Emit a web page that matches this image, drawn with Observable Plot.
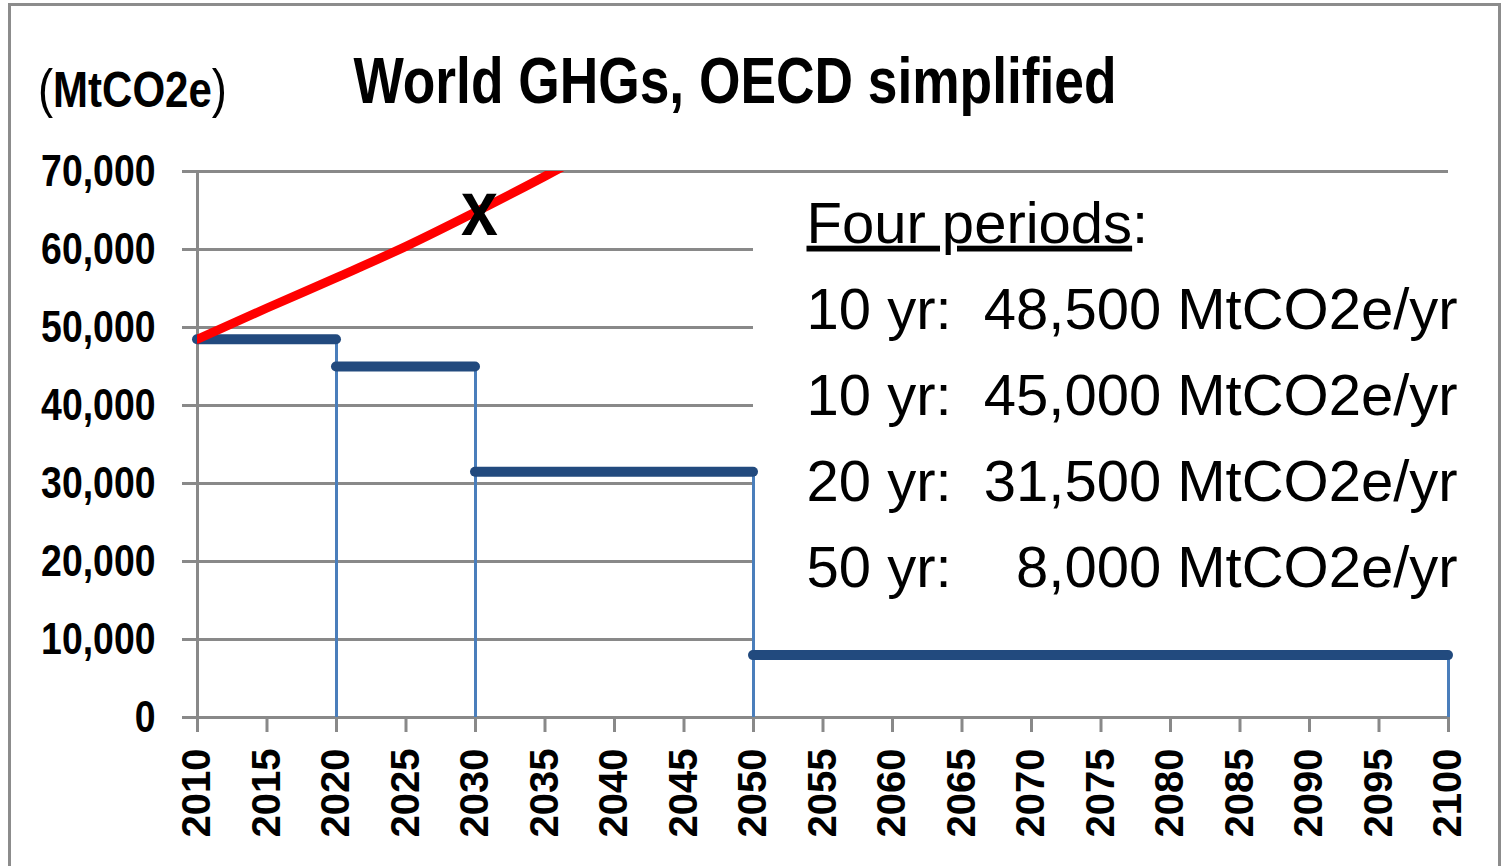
<!DOCTYPE html>
<html>
<head>
<meta charset="utf-8">
<script src="https://cdn.jsdelivr.net/npm/d3@7"></script>
<script src="https://cdn.jsdelivr.net/npm/@observablehq/plot@0.6"></script>
<style>
  html, body { margin: 0; padding: 0; background: #fff; overflow: hidden; }
  #wrap { position: relative; width: 1502px; height: 866px; overflow: hidden; background: #fff; }
  #header { position: relative; height: 130px; }
  #title { position: absolute; left: 0; width: 1470px; top: 48px; text-align: center;
           font: bold 65px/1 'Liberation Sans', Arial, sans-serif; white-space: nowrap; color: #000;
           transform: scaleX(0.82); transform-origin: 50% 50%; }
  #unit { position: absolute; left: 38px; top: 61px; white-space: nowrap; color: #000;
          font: normal 54px/1 'Liberation Sans', Arial, sans-serif;
          transform: scaleX(0.84); transform-origin: 0 50%; }
  #unit b { font-size: 50px; font-weight: bold; }
  #frame { position: absolute; left: 8px; top: 3px; width: 1487px; height: 900px;
           border: 3px solid #8c8c8c; pointer-events: none; }
  #chart svg { display: block; }
</style>
</head>
<body>
<div id="wrap">
  <div id="header">
    <div id="title"></div>
    <div id="unit"></div>
  </div>
  <div id="chart"></div>
  <div id="frame"></div>
</div>
<script>
// ---- data ----
const titleText = "World GHGs, OECD simplified";
const unitText = "MtCO2e";

// red "business as usual" curve
const redYears  = [2010, 2015, 2020, 2025, 2030, 2035, 2040];
const redValues = [48500, 52500, 56400, 60400, 64800, 69400, 74200];

// four simplified periods
const periodStart = [2010, 2020, 2030, 2050];
const periodEnd   = [2020, 2030, 2050, 2100];
const periodValue = [48500, 45000, 31500, 8000];

// marker on the red curve
const markerYear = 2030;
const markerLabel = "x";

// axis ticks
const xTickValues = [2010, 2015, 2020, 2025, 2030, 2035, 2040, 2045, 2050, 2055,
                     2060, 2065, 2070, 2075, 2080, 2085, 2090, 2095, 2100];
const yTickValues = [0, 10000, 20000, 30000, 40000, 50000, 60000, 70000];

// annotation
const headerLine = "Four periods:";
const unitPerYear = "MtCO2e/yr";

// ---- build ----
// "Narrow" is only a tag: the narrow face is absent, text is condensed afterwards
const NARROW = "'Liberation Sans Narrow', 'Liberation Sans', Arial, sans-serif";
const WIDE = "'Liberation Sans', Arial, sans-serif";
const GRID = "#898989";
const CONDENSE = 0.85;

document.getElementById("title").textContent = titleText;
const unitEl = document.getElementById("unit");
unitEl.append("(");
const b = document.createElement("b"); b.textContent = unitText; unitEl.append(b);
unitEl.append(")");

const red = redYears.map((year, i) => ({year, value: redValues[i]}));
const periods = periodValue.map((value, i) => ({start: periodStart[i], end: periodEnd[i], value}));
const fmt = d3.format(",");
const periodLines = periods.map(p => {
  const num = fmt(p.value);
  return `${p.end - p.start} yr:` + "\u00A0".repeat(2 + 2 * (6 - num.length)) + num + " " + unitPerYear;
});
const blockText = [headerLine, ...periodLines].join("\n");

const yMin = yTickValues[0], yMax = yTickValues[yTickValues.length - 1];
const xMin = xTickValues[0], xMax = xTickValues[xTickValues.length - 1];
const innerGrid = yTickValues.filter(v => v > yMin && v < yMax);

const chart = Plot.plot({
  width: 1502,
  height: 736,
  marginTop: 41,
  marginBottom: 149,
  marginLeft: 197,
  marginRight: 54,
  style: {fontFamily: WIDE, background: "transparent", color: "#000", overflow: "visible"},
  x: {domain: [xMin, xMax]},
  y: {domain: [yMin, yMax]},
  marks: [
    // gridlines (inner ones hidden behind the text box from 2050 on)
    Plot.ruleY(innerGrid, {x1: xMin, x2: periodStart[3], stroke: GRID, strokeWidth: 3}),
    Plot.ruleY([yMin, yMax], {x1: xMin, x2: xMax, stroke: GRID, strokeWidth: 3}),
    Plot.ruleX([xMin], {y1: yMin, y2: yMax, stroke: GRID, strokeWidth: 3}),
    Plot.axisY({
      ticks: yTickValues, tickFormat: fmt, tickSize: 15, tickPadding: 27,
      stroke: GRID, strokeWidth: 3, fontSize: 44, fontWeight: "bold",
      fontFamily: NARROW, label: null
    }),
    Plot.axisX({
      ticks: xTickValues, tickFormat: d => String(d), tickRotate: -90,
      tickSize: 15, tickPadding: 16, stroke: GRID, strokeWidth: 3,
      fontSize: 40, fontWeight: "bold", fontFamily: WIDE, label: null
    }),
    // drop lines at period ends
    Plot.ruleX(periods, {x: "end", y1: yMin, y2: "value", stroke: "#4A7EBB", strokeWidth: 3}),
    // period levels
    Plot.ruleY(periods, {y: "value", x1: "start", x2: "end", stroke: "#224A7E",
      strokeWidth: 10, strokeLinecap: "round"}),
    // red curve
    Plot.line(red, {x: "year", y: "value", stroke: "#FF0000", strokeWidth: 9,
      curve: "monotone-x", clip: true}),
    // marker
    Plot.text([markerYear], {
      x: d => d, y: d => redValues[redYears.indexOf(d)], text: () => markerLabel,
      fontSize: 78, fontWeight: "bold", fontFamily: NARROW, fill: "#000",
      dx: 4, dy: -2
    }),
    // annotation block
    Plot.text([blockText], {
      frameAnchor: "top-left", text: d => d, textAnchor: "start", lineAnchor: "top",
      lineHeight: 1.486, fontSize: 58, fontFamily: WIDE, fill: "#000",
      dx: 609, dy: 10
    })
  ]
});

// underline "Four periods" (not the colon)
d3.select(chart).selectAll("tspan").each(function() {
  if (this.textContent === headerLine) {
    const ns = "http://www.w3.org/2000/svg";
    this.textContent = "";
    const u = document.createElementNS(ns, "tspan");
    u.setAttribute("text-decoration", "underline");
    u.style.textDecoration = "underline";
    u.textContent = headerLine.replace(/:$/, "");
    const c = document.createElementNS(ns, "tspan");
    c.textContent = ":";
    this.append(u, c);
  }
});

document.getElementById("chart").append(chart);

// condense the texts tagged as narrow
const narrowTexts = new Set();
chart.querySelectorAll('[font-family*="Narrow"]').forEach(el => {
  if (el.tagName === "text") narrowTexts.add(el);
  el.querySelectorAll("text").forEach(t => narrowTexts.add(t));
});
narrowTexts.forEach(t => {
  const len = t.getComputedTextLength();
  t.setAttribute("textLength", (len * CONDENSE).toFixed(2));
  t.setAttribute("lengthAdjust", "spacingAndGlyphs");
});
</script>
</body>
</html>
